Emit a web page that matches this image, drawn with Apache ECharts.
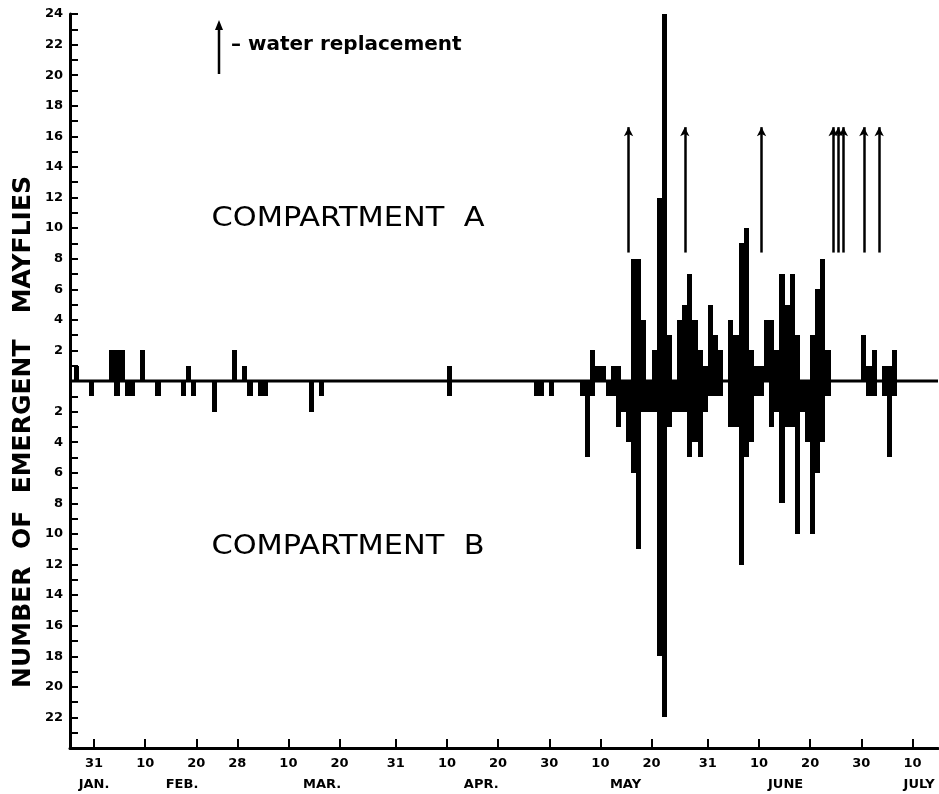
<!DOCTYPE html>
<html>
<head>
<meta charset="utf-8">
<script src="https://cdn.jsdelivr.net/npm/echarts@6/dist/echarts.min.js"></script>
<style>
html,body{margin:0;padding:0;background:#fff;}
#chart{width:939px;height:794px;}
</style>
</head>
<body>
<div id="chart"></div>
<script>
// Day of year (1 = Jan 1) for each sampled day
const days = [27,30,34,35,36,37,38,40,43,48,49,50,54,58,60,61,63,64,73,75,100,117,118,120,
  126,127,128,129,130,131,132,133,134,135,136,137,138,139,140,141,142,143,144,145,146,147,148,149,150,
  151,152,153,155,156,157,158,159,160,161,162,163,164,165,166,167,168,169,170,171,172,173,174,
  181,182,183,185,186,187];
// Compartment A emergent mayflies (plotted upward)
const compA = [1,0,2,2,2,0,0,2,0,0,1,0,0,2,1,0,0,0,0,0,1,0,0,0,
  0,0,2,1,1,0,1,1,0,0,8,8,4,0,2,12,24,3,0,4,5,7,4,2,1,
  5,3,2,4,3,9,10,2,1,1,4,4,2,7,5,7,3,0,0,3,6,8,2,
  3,1,2,1,1,2];
// Compartment B emergent mayflies (plotted downward)
const compB = [0,1,0,1,0,1,1,0,1,1,0,1,2,0,0,1,1,1,2,1,1,1,1,1,
  1,5,1,0,0,1,1,3,2,4,6,11,2,2,2,18,22,3,2,2,2,5,4,5,2,
  1,1,1,3,3,12,5,4,1,1,0,3,2,8,3,3,10,2,4,10,6,4,1,
  0,1,1,1,5,1];
// Days of water replacement (arrows)
const waterReplacementDays = [135,146,161,175,176,177,181,184];
const arrowFrom = 8.4, arrowTo = 16.6;

// X-axis range, tick days and labels
const xMin = 26.3, xMax = 196;
const tickDays   = [31,41,51,59,69,79,90,100,110,120,130,140,151,161,171,181,191];
const tickLabels = ['31','10','20','28','10','20','31','10','20','30','10','20','31','10','20','30','10'];
const monthDays   = [31,48.2,75.6,106.7,134.9,166.2,192.3];
const monthLabels = ['JAN.','FEB.','MAR.','APR.','MAY','JUNE','JULY'];

const FONT = '"DejaVu Sans", "Liberation Sans", sans-serif';
const chart = echarts.init(document.getElementById('chart'), null, {renderer:'canvas'});

const dataA = [], dataB = [];
days.forEach((d, i) => {
  if (compA[i] > 0) dataA.push([d, compA[i]]);
  if (compB[i] > 0) dataB.push([d, -compB[i]]);
});

// each day's count is a block covering that day on the axis (pixel-snapped to avoid seams)
function renderDay(params, api) {
  const d = api.value(0), v = api.value(1);
  const p0 = api.coord([d, 0]);
  const p1 = api.coord([d + 1, v]);
  const x0 = Math.round(p0[0]), x1 = Math.round(p1[0]);
  const y0 = Math.round(Math.min(p0[1], p1[1])), y1 = Math.round(Math.max(p0[1], p1[1]));
  return {
    type: 'rect',
    shape: {x: x0, y: y0, width: Math.max(x1 - x0, 4), height: y1 - y0},
    style: {fill: '#000', stroke: null, lineWidth: 0}
  };
}

const arrowLines = waterReplacementDays.map(d => [
  {coord: [d + 0.5, arrowFrom], symbol: 'none'},
  {coord: [d + 0.5, arrowTo], symbol: 'arrow', symbolSize: [7, 9]}
]);

const option = {
  animation: false,
  backgroundColor: '#fff',
  grid: {left: 70, right: 1, top: 14, bottom: 46, containLabel: false},
  xAxis: [{
    type: 'value', min: xMin, max: xMax,
    axisLine: {show: true, onZero: false, lineStyle: {color: '#000', width: 3}},
    axisTick: {show: true, inside: true, length: 9, lineStyle: {color: '#000', width: 2}, customValues: tickDays},
    axisLabel: {
      show: true, margin: 9, color: '#000', fontFamily: FONT, fontWeight: 'bold', fontSize: 13,
      customValues: tickDays,
      formatter: v => { const i = tickDays.indexOf(v); return i >= 0 ? tickLabels[i] : ''; }
    },
    splitLine: {show: false}
  }, {
    type: 'value', min: xMin, max: xMax, position: 'bottom',
    axisLine: {show: false}, axisTick: {show: false}, splitLine: {show: false},
    axisLabel: {
      show: true, margin: 30, color: '#000', fontFamily: FONT, fontWeight: 'bold', fontSize: 13,
      customValues: monthDays,
      formatter: v => { const i = monthDays.indexOf(v); return i >= 0 ? monthLabels[i] : ''; }
    }
  }],
  yAxis: {
    type: 'value', min: -24, max: 24, interval: 1,
    axisLine: {show: true, onZero: false, lineStyle: {color: '#000', width: 3}},
    axisTick: {show: true, inside: true, length: 8, lineStyle: {color: '#000', width: 2}},
    axisLabel: {
      show: true, margin: 7, color: '#000', fontFamily: FONT, fontWeight: 'bold', fontSize: 13,
      formatter: v => (v !== 0 && v % 2 === 0 && v !== -24) ? String(Math.abs(v)) : ''
    },
    splitLine: {show: false}
  },
  series: [{
    name: 'Compartment A', type: 'custom', renderItem: renderDay,
    encode: {x: 0, y: 1}, data: dataA, silent: true
  }, {
    name: 'Compartment B', type: 'custom', renderItem: renderDay,
    encode: {x: 0, y: 1}, data: dataB, silent: true
  }, {
    name: 'baseline', type: 'line', data: [[xMin, 0], [xMax, 0]],
    symbol: 'none', silent: true, z: 3,
    lineStyle: {color: '#000', width: 3},
    markLine: {
      silent: true, animation: false, label: {show: false},
      lineStyle: {color: '#000', width: 2.5, type: 'solid'},
      data: arrowLines
    }
  }],
  graphic: [
    {type: 'line', shape: {x1: 219, y1: 74, x2: 219, y2: 28}, style: {stroke: '#000', lineWidth: 2.5}},
    {type: 'polygon', shape: {points: [[219, 20], [215, 30], [223, 30]]}, style: {fill: '#000'}},
    {type: 'text', x: 231, y: 45, style: {text: '\u2013 water replacement', fill: '#000',
      font: 'bold 20px ' + FONT, textAlign: 'left', textVerticalAlign: 'middle'}},
    {type: 'text', x: 348, y: 219, scaleX: 1.17, style: {text: 'COMPARTMENT  A', fill: '#000',
      font: '26px ' + FONT, textAlign: 'center', textVerticalAlign: 'middle'}},
    {type: 'text', x: 348, y: 547, scaleX: 1.17, style: {text: 'COMPARTMENT  B', fill: '#000',
      font: '26px ' + FONT, textAlign: 'center', textVerticalAlign: 'middle'}},
    {type: 'text', x: 23, y: 432, rotation: Math.PI / 2, style: {text: 'NUMBER  OF  EMERGENT   MAYFLIES',
      fill: '#000', font: 'bold 25px ' + FONT, textAlign: 'center', textVerticalAlign: 'middle'}}
  ]
};
chart.setOption(option);
</script>
</body>
</html>
